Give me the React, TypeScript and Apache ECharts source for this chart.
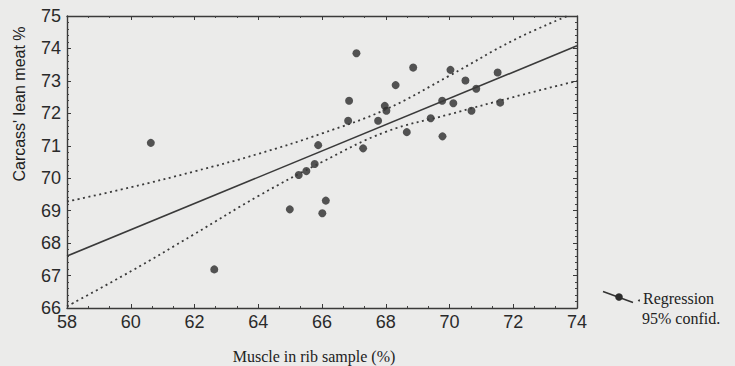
import React, { useEffect, useRef } from "react";
import * as echarts from "echarts";

const muscle = [60.63, 62.62, 64.99, 65.27, 65.51, 65.77, 65.88, 66.01, 66.12, 66.82, 66.85, 67.08, 67.29, 67.76, 67.97, 68.02, 68.31, 68.66, 68.86, 69.41, 69.77, 69.78, 70.03, 70.12, 70.5, 70.69, 70.84, 71.51, 71.59];
const leanMeat = [71.09, 67.19, 69.04, 70.1, 70.22, 70.44, 71.02, 68.92, 69.31, 71.77, 72.39, 73.85, 70.92, 71.77, 72.23, 72.08, 72.87, 71.42, 73.41, 71.85, 72.39, 71.29, 73.34, 72.31, 73.01, 72.08, 72.76, 73.26, 72.33];

// Regression line end points
const regX = [58, 74];
const regY = [67.6, 74.08];

// 95% confidence band
const upperX = [58, 60, 62, 64, 66, 68, 70, 72, 73.7];
const upperY = [69.28, 69.72, 70.21, 70.75, 71.38, 72.12, 73.16, 74.25, 75.0];
const lowerX = [58, 60, 62, 64, 66, 68, 70, 72, 74];
const lowerY = [66.05, 67.13, 68.28, 69.45, 70.5, 71.43, 71.97, 72.5, 73.0];

const xTitle = "Muscle in rib sample (%)";
const yTitle = "Carcass' lean meat %";
const legendLabels = ["Regression", "95% confid."];

const zip = (a: number[], b: number[]) => a.map((v, i) => [v, b[i]]);

export default function App() {
  const ref = useRef<HTMLDivElement>(null);
  useEffect(() => {
    if (!ref.current) return;
    const chart = echarts.init(ref.current, null, { renderer: "svg" });
    const ink = "#2a2a2a";
    const axisCommon = {
      axisLine: { show: true, lineStyle: { color: "#3a3a3a", width: 1.4 } },
      axisTick: { show: true, inside: true, length: 4, lineStyle: { color: "#3a3a3a" } },
      minorTick: { show: true, length: 2, lineStyle: { color: "#444" } },
      splitLine: { show: false },
    };
    chart.setOption({
      animation: false,
      backgroundColor: "#ebebea",
      grid: { left: 67, right: 158, top: 16, bottom: 58 },
      xAxis: [
        {
          type: "value", min: 58, max: 74, interval: 2, position: "bottom",
          ...axisCommon,
          minorTick: { ...axisCommon.minorTick, splitNumber: 3 },
          axisLabel: { fontFamily: "Liberation Sans", fontSize: 18, color: ink, margin: 5 },
        },
        {
          type: "value", min: 58, max: 74, interval: 2, position: "top",
          ...axisCommon,
          minorTick: { ...axisCommon.minorTick, splitNumber: 3 },
          axisLabel: { show: false },
        },
      ],
      yAxis: [
        {
          type: "value", min: 66, max: 75, interval: 1, position: "left",
          ...axisCommon,
          minorTick: { ...axisCommon.minorTick, splitNumber: 5 },
          axisLabel: { fontFamily: "Liberation Sans", fontSize: 18, color: ink, margin: 6 },
        },
        {
          type: "value", min: 66, max: 75, interval: 1, position: "right",
          ...axisCommon,
          minorTick: { ...axisCommon.minorTick, splitNumber: 5 },
          axisLabel: { show: false },
        },
      ],
      series: [
        {
          type: "line", data: zip(regX, regY), symbol: "none",
          lineStyle: { color: "#3a3a3a", width: 1.6 },
        },
        {
          type: "line", data: zip(upperX, upperY), symbol: "none", smooth: 0.4,
          lineStyle: { color: "#3a3a3a", width: 1.8, type: [2, 3.5] },
        },
        {
          type: "line", data: zip(lowerX, lowerY), symbol: "none", smooth: 0.4,
          lineStyle: { color: "#3a3a3a", width: 1.8, type: [2, 3.5] },
        },
        {
          type: "scatter", data: zip(muscle, leanMeat), symbol: "circle", symbolSize: 8,
          itemStyle: { color: "#2c2c2c" },
        },
      ],
      graphic: [
        {
          type: "text", x: 19, y: 104, rotation: Math.PI / 2,
          style: {
            text: yTitle, fontFamily: "Liberation Sans", fontSize: 16, fill: "#222",
            align: "center", verticalAlign: "middle",
          },
        },
        {
          type: "text", x: 314, y: 356,
          style: {
            text: xTitle, fontFamily: "Liberation Serif", fontSize: 16, fill: "#222",
            align: "center", verticalAlign: "middle",
          },
        },
        {
          type: "line", shape: { x1: 603, y1: 291.5, x2: 633, y2: 302.5 },
          style: { stroke: "#333", lineWidth: 1.6 },
        },
        { type: "circle", shape: { cx: 619, cy: 297, r: 3.8 }, style: { fill: "#2c2c2c" } },
        { type: "circle", shape: { cx: 639, cy: 300.5, r: 1 }, style: { fill: "#333" } },
        {
          type: "text", x: 643, y: 298,
          style: {
            text: legendLabels[0], fontFamily: "Liberation Serif", fontSize: 16, fill: "#222",
            align: "left", verticalAlign: "middle",
          },
        },
        {
          type: "text", x: 642, y: 318,
          style: {
            text: legendLabels[1], fontFamily: "Liberation Serif", fontSize: 16, fill: "#222",
            align: "left", verticalAlign: "middle",
          },
        },
      ],
    });
    return () => chart.dispose();
  }, []);
  return (
    <div
      ref={ref}
      style={{ position: "fixed", left: 0, top: 0, width: 735, height: 366 }}
    />
  );
}
